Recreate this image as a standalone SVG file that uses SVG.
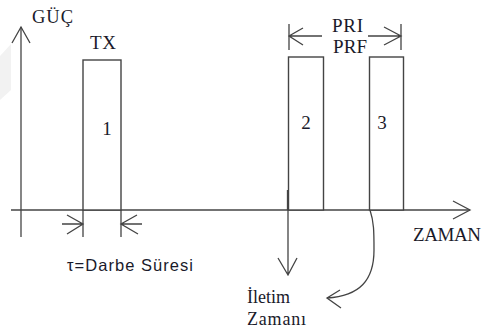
<svg xmlns="http://www.w3.org/2000/svg" width="483" height="331" viewBox="0 0 483 331">
  <defs>
    <style>
      .ln { fill: none; stroke: #444; stroke-width: 1.3; }
      .pulse { fill: #fff; stroke: #444; stroke-width: 1.4; }
      .serif { font-family: "Liberation Serif", "Times New Roman", serif; fill: #1a1a2a; }
      .sans { font-family: "Liberation Sans", Arial, sans-serif; fill: #1a1a2a; }
    </style>
  </defs>
  <rect width="483" height="331" fill="#fff"/>
  <!-- faint background mark -->
  <polygon points="0,56 11,44 11,90 0,100" fill="#f2f2f2"/>

  <!-- axes -->
  <g id="axes">
    <path class="ln" d="M21,27 V237"/>
    <path class="ln" d="M12,43 L21,27 L30,43"/>
    <path class="ln" d="M11,210 H470"/>
    <path class="ln" d="M453,201 L470,210 L453,219"/>
    <text class="serif" x="32" y="23" font-size="18.5" textLength="41">GÜÇ</text>
    <text class="serif" x="413" y="241" font-size="19" textLength="68">ZAMAN</text>
  </g>

  <!-- pulses -->
  <g id="pulse1">
    <rect class="pulse" x="83" y="60" width="38" height="150"/>
    <text class="serif" x="90" y="49" font-size="19" textLength="26">TX</text>
    <text class="serif" x="107" y="135" font-size="19" text-anchor="middle">1</text>
  </g>
  <g id="pulse2">
    <rect class="pulse" x="288.5" y="57" width="35" height="153"/>
    <text class="serif" x="306" y="129" font-size="19" text-anchor="middle">2</text>
  </g>
  <g id="pulse3">
    <rect class="pulse" x="369.5" y="57" width="34" height="153"/>
    <text class="serif" x="382" y="129" font-size="19" text-anchor="middle">3</text>
  </g>

  <!-- connectors and dimension marks -->
  <g id="connectors">
    <!-- pulse width -->
    <path class="ln" d="M83,210 V237 M121,210 V237"/>
    <path class="ln" d="M62,224 H83 M67,215 L83,224 L67,234"/>
    <path class="ln" d="M142,224 H121 M137,215 L121,224 L138,234"/>
    <!-- PRI / PRF -->
    <path class="ln" d="M289,24 V50 M401,24 V50"/>
    <path class="ln" d="M322,36 H289 M303,28 L289,36 L303,45"/>
    <path class="ln" d="M368,36 H401 M384,27 L401,36 L384,45"/>
    <!-- transmit time -->
    <path class="ln" d="M287.5,190 V210" stroke-width="2"/>
    <path class="ln" d="M288,210 V275 M278,258 L288,275 L297,258"/>
    <path class="ln" d="M370,210 C374,222 374,232 374,250 C374,280 360,296 327,298"/>
    <path class="ln" d="M340,290 L327,298 L341,308"/>
  </g>

  <g id="labels">
    <text class="serif" x="332" y="32" font-size="19" textLength="31">PRI</text>
    <text class="serif" x="333" y="53" font-size="19" textLength="34">PRF</text>
    <text class="sans" x="67" y="271" font-size="16.5" textLength="126">τ=Darbe Süresi</text>
    <text class="serif" x="247" y="303" font-size="18" textLength="43" fill="#111">İletim</text>
    <text class="serif" x="247" y="325" font-size="18" textLength="59" fill="#111">Zamanı</text>
  </g>
</svg>
